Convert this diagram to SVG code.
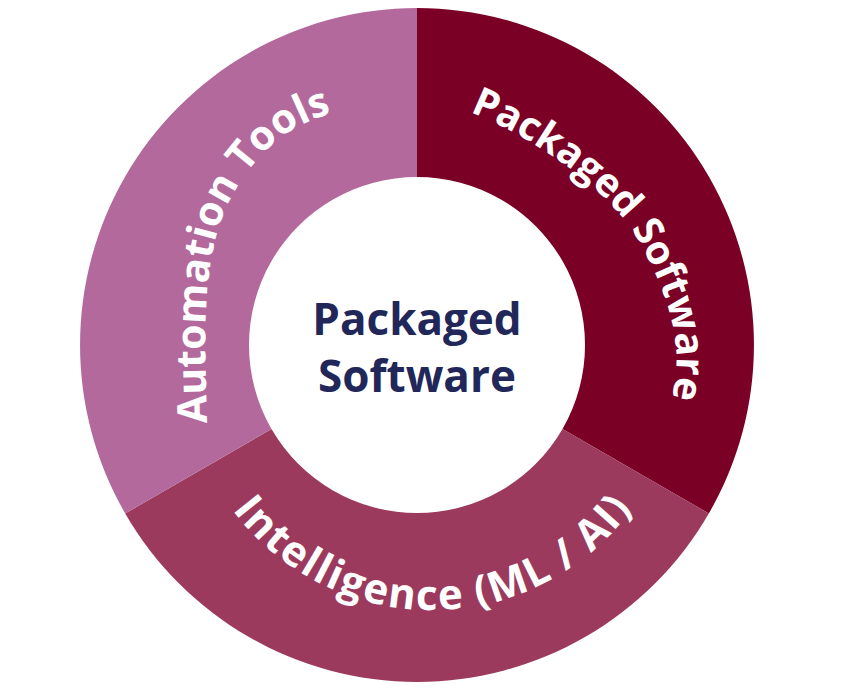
<svg xmlns="http://www.w3.org/2000/svg" xmlns:xlink="http://www.w3.org/1999/xlink" width="846" height="685" viewBox="0 0 846 685">
<style>
.ring{font-family:"Open Sans","Liberation Sans",sans-serif;font-weight:700;font-size:41px;fill:#ffffff}
.pk{font-size:40px}
.big{font-size:42px;letter-spacing:1.6px}
.center{font-family:"Open Sans","Liberation Sans",sans-serif;font-weight:700;font-size:44px;fill:#212759;text-anchor:middle}
</style>
<defs>
<path id="pA" d="M 470 112 C 525.8 133.6, 607 186, 637 238 C 662 281.3, 688 342, 671 400 L 659 440" fill="none"/>
<path id="pC" d="M 207 423 C 205 340, 200 255, 231 198 C 262 141, 300 122, 330 114 L 370 100" fill="none"/>
<path id="pB" d="M 232.5 509.8 A 248.3 248.3 0 0 0 665.3 446.5" fill="none"/>
</defs>
<rect width="846" height="685" fill="#ffffff"/>
<g id="seg-packaged">
<path d="M 417 8 A 337 337 0 0 1 708.8 513.5 L 562.5 429 A 168 168 0 0 0 417 177 Z" fill="#7a0026"/>
<text class="ring pk"><textPath xlink:href="#pA" href="#pA">Packaged Software</textPath></text>
</g>
<g id="seg-intelligence">
<path d="M 708.8 513.5 A 337 337 0 0 1 125.2 513.5 L 271.5 429 A 168 168 0 0 0 562.5 429 Z" fill="#9c3a5e"/>
<text class="ring big"><textPath xlink:href="#pB" href="#pB">Intelligence (ML / AI)</textPath></text>
</g>
<g id="seg-automation">
<path d="M 125.2 513.5 A 337 337 0 0 1 417 8 L 417 177 A 168 168 0 0 0 271.5 429 Z" fill="#b3699c"/>
<text class="ring"><textPath xlink:href="#pC" href="#pC">Automation Tools</textPath></text>
</g>
<g id="center">
<text class="center" x="417" y="335">Packaged</text>
<text class="center" x="417" y="392">Software</text>
</g>
<g id="connectors"></g>
</svg>
